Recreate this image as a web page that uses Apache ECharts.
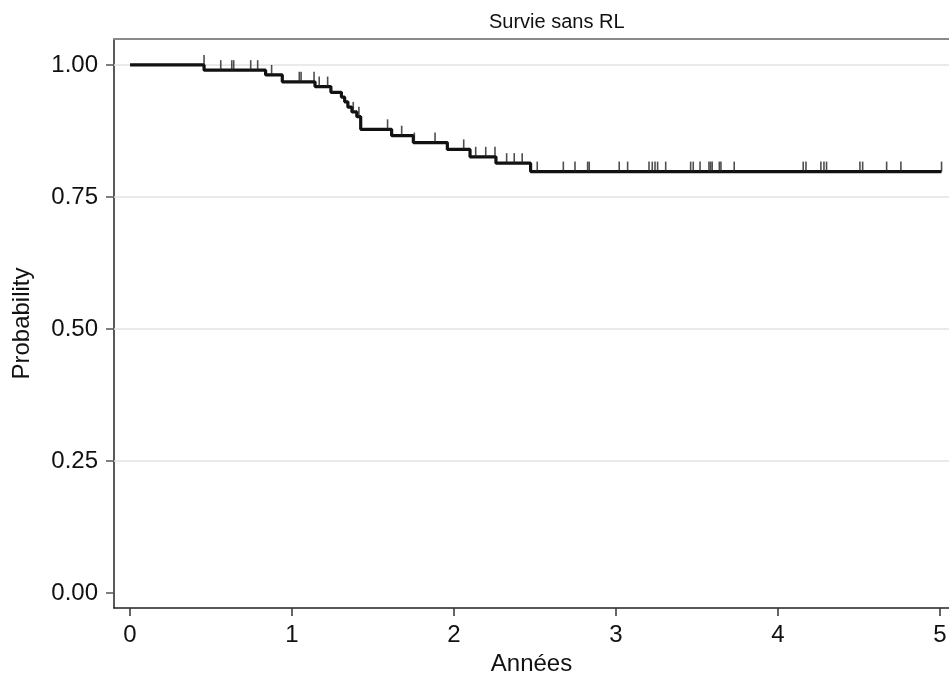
<!DOCTYPE html>
<html>
<head>
<meta charset="utf-8">
<script src="https://cdn.jsdelivr.net/npm/echarts@6/dist/echarts.min.js"></script>
<style>
html,body{margin:0;padding:0;background:#fff;}
#chart{width:949px;height:678px;}
</style>
</head>
<body>
<div id="chart"></div>
<script>
// Kaplan-Meier step curve (time in years, survival probability)
const stepTimes = [0, 0.457, 0.837, 0.94, 1.142, 1.24, 1.305, 1.325, 1.345, 1.37, 1.40, 1.424, 1.615, 1.749, 1.959, 2.099, 2.259, 2.473, 5.01];
const stepSurv  = [1.000, 0.990, 0.981, 0.968, 0.959, 0.948, 0.939, 0.930, 0.920, 0.911, 0.902, 0.878, 0.866, 0.853, 0.840, 0.826, 0.814, 0.798, 0.798];
// Censoring times
const censorTimes = [0.457, 0.56, 0.628, 0.64, 0.745, 0.788, 0.874, 1.045, 1.056, 1.136, 1.168, 1.22,
  1.378, 1.413, 1.59, 1.677, 1.755, 1.883, 2.06, 2.134, 2.196, 2.253, 2.325, 2.372, 2.421,
  2.514, 2.675, 2.747, 2.825, 2.835, 3.02, 3.072, 3.204, 3.224, 3.241, 3.257, 3.307, 3.461, 3.477,
  3.519, 3.574, 3.584, 3.594, 3.638, 3.648, 3.73, 4.156, 4.173, 4.265, 4.284, 4.30, 4.506, 4.523,
  4.671, 4.759, 5.01];
const xTicks = [0, 1, 2, 3, 4, 5];
const yTicks = [0, 0.25, 0.5, 0.75, 1];
const yGrid = [0.25, 0.5, 0.75, 1];
const titleText = 'Survie sans RL';
const xTitle = 'Années';
const yTitle = 'Probability';

function survAt(t) {
  let s = stepSurv[0];
  for (let i = 0; i < stepTimes.length; i++) {
    if (stepTimes[i] < t) s = stepSurv[i];
  }
  return s;
}
const stepData = stepTimes.map((t, i) => [t, stepSurv[i]]);
const censorData = censorTimes.map(t => [t, survAt(t)]);

const FONT = 'Liberation Sans, Arial, Helvetica, sans-serif';
const chart = echarts.init(document.getElementById('chart'), null, {renderer: 'canvas'});
chart.setOption({
  animation: false,
  backgroundColor: '#ffffff',
  title: {
    text: titleText, left: 484, top: 7,
    textStyle: {fontFamily: FONT, fontSize: 20, fontWeight: 'normal', color: '#111'}
  },
  grid: {left: 114, right: 0, top: 39, bottom: 70, containLabel: false, outerBoundsMode: 'none'},
  xAxis: [{
    type: 'value', min: -0.099, max: 5.056,
    name: xTitle, nameLocation: 'middle', nameGap: 42,
    nameTextStyle: {fontFamily: FONT, fontSize: 24, color: '#111'},
    axisLine: {show: true, onZero: false, lineStyle: {color: '#222', width: 1.5}},
    axisTick: {show: true, length: 8, customValues: xTicks, lineStyle: {color: '#333', width: 1.5}},
    axisLabel: {customValues: xTicks, margin: 15, fontFamily: FONT, fontSize: 24, color: '#111',
      formatter: v => String(v)},
    splitLine: {show: false}
  }, {
    type: 'value', position: 'top', min: -0.099, max: 5.056,
    axisLine: {show: true, onZero: false, lineStyle: {color: '#8a8a8a', width: 2}},
    axisTick: {show: false}, axisLabel: {show: false}, splitLine: {show: false}
  }],
  yAxis: {
    type: 'value', min: -0.028, max: 1.049,
    name: yTitle, nameLocation: 'middle', nameGap: 80, nameRotate: 90,
    nameTextStyle: {fontFamily: FONT, fontSize: 24, color: '#111'},
    axisLine: {show: true, onZero: false, lineStyle: {color: '#222', width: 1.5}},
    axisTick: {show: true, length: 8, customValues: yTicks, lineStyle: {color: '#555', width: 1.5}},
    axisLabel: {customValues: yTicks, margin: 16, fontFamily: FONT, fontSize: 24, color: '#111',
      formatter: v => v.toFixed(2)},
    splitLine: {show: false}
  },
  series: [{
    type: 'line', step: 'end', data: stepData, showSymbol: false, symbol: 'none',
    lineStyle: {color: '#111', width: 3.2}, z: 5,
    markLine: {
      silent: true, symbol: 'none', label: {show: false},
      lineStyle: {color: '#e3e3e3', width: 1.5, type: 'solid'},
      data: yGrid.map(v => ({yAxis: v}))
    }
  }, {
    type: 'scatter', data: censorData, symbol: 'rect', symbolSize: [1.6, 10],
    symbolOffset: [0, -5], itemStyle: {color: '#222'}, z: 6
  }]
});
</script>
</body>
</html>
